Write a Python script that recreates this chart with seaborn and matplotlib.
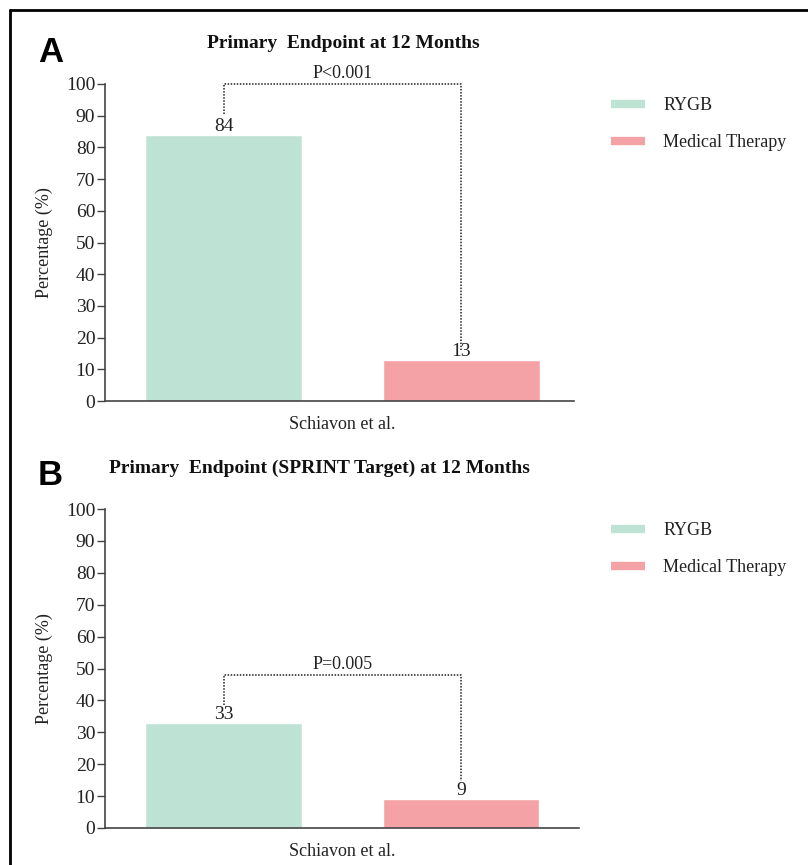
import matplotlib
matplotlib.use("Agg")
import matplotlib.pyplot as plt
from matplotlib.lines import Line2D
import seaborn as sns
import pandas as pd

# data
studies = ["Schiavon et al."]
groups = ["RYGB", "Medical Therapy"]
pct_a = [84, 13]
pct_b = [33, 9]
p_a = "P<0.001"
p_b = "P=0.005"
title_a = "Primary  Endpoint at 12 Months"
title_b = "Primary  Endpoint (SPRINT Target) at 12 Months"
yticks = list(range(0, 101, 10))
colors = ["#bee3d5", "#f5a2a6"]

sns.set_theme(style="ticks")
plt.rcParams["font.family"] = ["Liberation Serif", "DejaVu Serif"]

W, H = 808, 865
fig = plt.figure(figsize=(W / 100, H / 100), dpi=100)
fig.patch.set_facecolor("white")


def fx(px):
    return px / W


def fy(py):
    return 1 - py / H


def panel(ax, vals, ptxt, top_off, left_off, right_off):
    df = pd.DataFrame({"study": studies * len(groups), "group": groups, "pct": vals})
    sns.barplot(data=df, x="study", y="pct", hue="group", palette=colors,
                width=0.8, gap=0.34, saturation=1, legend=False, ax=ax)
    for c in ax.containers:
        ax.bar_label(c, fmt="%d", padding=0, fontsize=14, color="#222222")

    # significance bracket
    xs = [c[0].get_x() + c[0].get_width() / 2 for c in ax.containers]
    top = max(vals) + top_off
    ax.plot([xs[0], xs[0], xs[1], xs[1]],
            [vals[0] + left_off, top, top, vals[1] + right_off],
            ls=(0, (1, 1)), color="#222222", lw=1.1, clip_on=False)
    ax.text((xs[0] + xs[1]) / 2, top + 0.5, ptxt, ha="center", va="bottom",
            fontsize=13, color="#222222")

    ax.set_ylim(0, 100)
    ax.set_yticks(yticks)
    ax.set_ylabel("Percentage (%)", fontsize=13, color="#222222")
    ax.yaxis.set_label_coords(-0.11, 0.5)
    ax.set_xlabel("")
    ax.tick_params(axis="y", length=6, width=1, color="#444444",
                   labelsize=14, labelcolor="#222222", pad=1)
    ax.tick_params(axis="x", length=0, labelsize=13, labelcolor="#222222", pad=11)
    sns.despine(ax=ax)
    for s in ("left", "bottom"):
        ax.spines[s].set_color("#444444")
        ax.spines[s].set_linewidth(1.2)
    ax.set_facecolor("none")

    handles = [Line2D([0], [0], color=col, lw=6, solid_capstyle="butt") for col in colors]
    return handles


ax_a = fig.add_axes([fx(105), fy(401), fx(574) - fx(105), fy(84) - fy(401)])
ax_b = fig.add_axes([fx(105), fy(828), fx(579) - fx(105), fy(509) - fy(828)])

h = panel(ax_a, pct_a, p_a, 16, 6.5, 3)
ax_a.set_xlim(-0.3996, 0.390)
panel(ax_b, pct_b, p_b, 15, 5.6, 5.7)
ax_b.set_xlim(-0.3996, 0.3987)

for ax, ly in ((ax_a, 97), (ax_b, 522)):
    fig.legend(h, groups, loc="upper left", bbox_to_anchor=(fx(611), fy(ly)),
               bbox_transform=fig.transFigure, frameon=False, fontsize=13,
               borderpad=0, borderaxespad=0,
               handlelength=1.9, handletextpad=1.0, labelspacing=1.1,
               labelcolor="#222222")

# titles and panel letters
fig.text(fx(343), fy(43), title_a, ha="center", va="center", fontsize=14,
         fontweight="bold", color="#111111")
fig.text(fx(319), fy(468), title_b, ha="center", va="center", fontsize=14,
         fontweight="bold", color="#111111")
fig.text(fx(38), fy(53), "A", ha="left", va="center", fontsize=25,
         fontweight="bold", family="Liberation Sans", color="black")
fig.text(fx(38), fy(476), "B", ha="left", va="center", fontsize=25,
         fontweight="bold", family="Liberation Sans", color="black")

# frame lines on the left and top
fig.add_artist(Line2D([fx(10), fx(10)], [0, fy(10)], transform=fig.transFigure,
                      color="black", lw=2))
fig.add_artist(Line2D([fx(10), 1], [fy(10), fy(10)], transform=fig.transFigure,
                      color="black", lw=2))

fig.savefig("out.png", dpi=100)
